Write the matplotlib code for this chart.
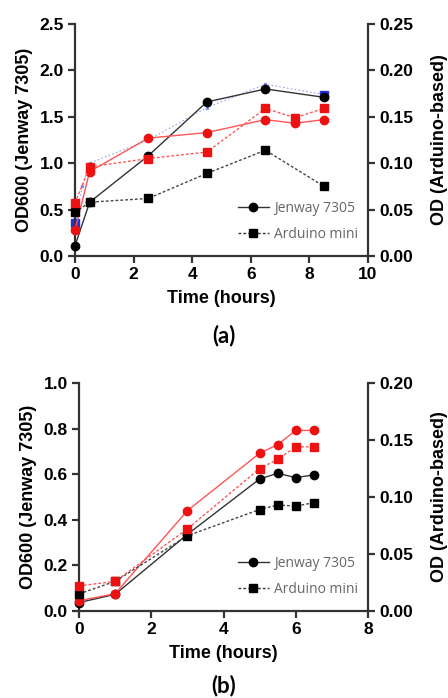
import matplotlib
matplotlib.use("Agg")
import matplotlib.pyplot as plt
from matplotlib.lines import Line2D

# ---------------- data: panel (a) ----------------
a_t_jen_black = [0, 0.5, 2.5, 4.5, 6.5, 8.5]
a_jen_black = [0.11, 0.58, 1.08, 1.66, 1.80, 1.71]
a_t_ard_black = [0, 0.5, 2.5, 4.5, 6.5, 8.5]
a_ard_black = [0.047, 0.058, 0.062, 0.089, 0.114, 0.075]
a_t_jen_red = [0, 0.5, 2.5, 4.5, 6.5, 7.5, 8.5]
a_jen_red = [0.28, 0.91, 1.27, 1.33, 1.47, 1.43, 1.47]
a_t_ard_red = [0, 0.5, 2.5, 4.5, 6.5, 7.5, 8.5]
a_ard_red = [0.057, 0.096, 0.105, 0.112, 0.159, 0.149, 0.159]
a_t_blue = [0, 0.25, 0.5, 2.5, 4.5, 6.5, 8.5]
a_blue = [0.36, 0.75, 1.0, 1.25, 1.60, 1.85, 1.74]

# ---------------- data: panel (b) ----------------
b_t = [0, 1, 3, 5, 5.5, 6, 6.5]
b_jen_black = [0.037, 0.073, 0.336, 0.579, 0.604, 0.585, 0.597]
b_ard_black = [0.015, 0.026, 0.066, 0.089, 0.093, 0.092, 0.095]
b_jen_red = [0.045, 0.076, 0.44, 0.692, 0.730, 0.792, 0.792]
b_ard_red = [0.022, 0.026, 0.072, 0.125, 0.133, 0.144, 0.144]

legend_labels = ["Jenway 7305", "Arduino mini"]
xlabel = "Time (hours)"
ylabel_left = "OD600 (Jenway 7305)"
ylabel_right = "OD (Arduino-based)"

W, H = 448, 698
fig = plt.figure(figsize=(W / 100, H / 100), dpi=100)

FONT = "Liberation Sans"
TICK_FS = 12.5
LAB_FS = 13
SPINE = "#333333"


def style_axes(ax, ax2):
    for a in (ax, ax2):
        a.spines["top"].set_visible(False)
        for s in ("left", "right", "bottom"):
            a.spines[s].set_linewidth(1.6)
            a.spines[s].set_color(SPINE)
        a.tick_params(direction="out", length=5, width=1.6, color=SPINE, pad=3)
        a.patch.set_visible(False)
    ax.spines["right"].set_visible(False)
    ax2.spines["left"].set_visible(False)
    ax2.spines["bottom"].set_visible(False)
    for lab in ax.get_xticklabels() + ax.get_yticklabels() + ax2.get_yticklabels():
        lab.set_fontfamily(FONT)
        lab.set_fontweight("bold")
        lab.set_fontsize(TICK_FS)
    ax.set_xlabel(xlabel, fontfamily=FONT, fontweight="bold", fontsize=LAB_FS, labelpad=6)
    ax.set_ylabel(ylabel_left, fontfamily=FONT, fontweight="bold", fontsize=LAB_FS, labelpad=5)
    ax2.set_ylabel(ylabel_right, fontfamily=FONT, fontweight="bold", fontsize=LAB_FS,
                   rotation=90, labelpad=13)


def legend(ax):
    handles = [
        Line2D([], [], color="#333333", lw=1.0, marker="o", ms=6, mfc="black", mec="black"),
        Line2D([], [], color="#333333", lw=1.0, ls=(0, (2, 1.5)), marker="s", ms=6,
               mfc="black", mec="black"),
    ]
    leg = ax.legend(handles, legend_labels, loc="lower right", frameon=False,
                    prop={"family": "Open Sans", "size": 10}, handlelength=2.2,
                    handletextpad=0.4, labelspacing=0.75, borderaxespad=0.3,
                    bbox_to_anchor=(1.0, 0.02))
    for t in leg.get_texts():
        t.set_color("#666666")


dash = (0, (2, 1.5))
kw_c = dict(marker="o", ms=6, lw=1.0, clip_on=False, zorder=3)
kw_s = dict(marker="s", ms=6, lw=1.0, ls=dash, clip_on=False, zorder=3)

# ---------------- panel (a) ----------------
axA = fig.add_axes([75 / W, (H - 256) / H, 293 / W, 232 / H])
axA2 = axA.twinx()
axA.plot(a_t_blue, a_blue, color="#5566ee", lw=0.8, ls=(0, (1.5, 2)), marker="s", ms=2,
         alpha=0.6, clip_on=False, zorder=2)
axA.plot([a_t_blue[0], a_t_blue[-1]], [a_blue[0], a_blue[-1]], ls="none", marker="s", ms=6,
         color="#2233dd", clip_on=False, zorder=2)
axA.plot(a_t_jen_black, a_jen_black, color="#333333", mfc="black", mec="black", **kw_c)
axA.plot(a_t_jen_red, a_jen_red, color="#ff5555", mfc="#ee1111", mec="#ee1111", **kw_c)
axA2.plot(a_t_ard_black, a_ard_black, color="#444444", mfc="black", mec="black", **kw_s)
axA2.plot(a_t_ard_red, a_ard_red, color="#ff5555", mfc="#ee1111", mec="#ee1111", **kw_s)
axA.set_xlim(0, 10)
axA.set_ylim(0, 2.5)
axA2.set_ylim(0, 0.25)
axA.set_xticks([0, 2, 4, 6, 8, 10])
axA.set_yticks([0, 0.5, 1.0, 1.5, 2.0, 2.5])
axA.set_yticklabels(["0.0", "0.5", "1.0", "1.5", "2.0", "2.5"])
axA2.set_yticks([0, 0.05, 0.10, 0.15, 0.20, 0.25])
axA2.set_yticklabels(["0.00", "0.05", "0.10", "0.15", "0.20", "0.25"])
style_axes(axA, axA2)
legend(axA2)
fig.text(224 / W, 1 - 336 / H, "(a)", ha="center", va="center", fontfamily="Lato",
         fontweight="bold", fontsize=16)

# ---------------- panel (b) ----------------
axB = fig.add_axes([79 / W, (H - 611) / H, 289 / W, 228 / H])
axB2 = axB.twinx()
axB.plot(b_t, b_jen_black, color="#333333", mfc="black", mec="black", **kw_c)
axB.plot(b_t, b_jen_red, color="#ff5555", mfc="#ee1111", mec="#ee1111", **kw_c)
axB2.plot(b_t, b_ard_black, color="#444444", mfc="black", mec="black", **kw_s)
axB2.plot(b_t, b_ard_red, color="#ff5555", mfc="#ee1111", mec="#ee1111", **kw_s)
axB.set_xlim(0, 8)
axB.set_ylim(0, 1.0)
axB2.set_ylim(0, 0.20)
axB.set_xticks([0, 2, 4, 6, 8])
axB.set_yticks([0, 0.2, 0.4, 0.6, 0.8, 1.0])
axB.set_yticklabels(["0.0", "0.2", "0.4", "0.6", "0.8", "1.0"])
axB2.set_yticks([0, 0.05, 0.10, 0.15, 0.20])
axB2.set_yticklabels(["0.00", "0.05", "0.10", "0.15", "0.20"])
style_axes(axB, axB2)
legend(axB2)
fig.text(224 / W, 1 - 686 / H, "(b)", ha="center", va="center", fontfamily="Lato",
         fontweight="bold", fontsize=16)

fig.savefig("out.png", dpi=100)
